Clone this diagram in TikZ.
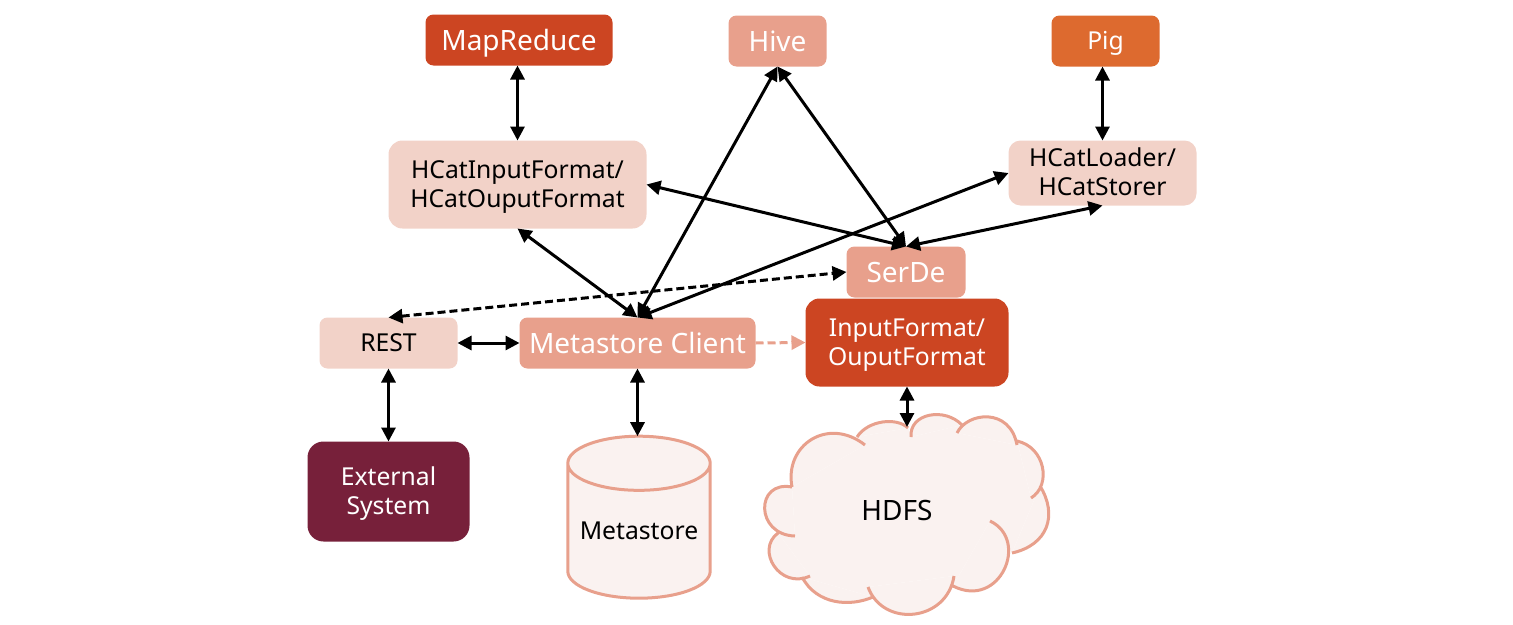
\documentclass[tikz,border=0pt]{standalone}
\usepackage{fontspec}
\setmainfont{Noto Sans}
\usetikzlibrary{arrows.meta, positioning, shapes.geometric}
\definecolor{brickred}{HTML}{CC4522}
\definecolor{salmon}{HTML}{E8A08C}
\definecolor{paleroze}{HTML}{F2D2C8}
\definecolor{pigorange}{HTML}{DD6A2F}
\definecolor{winered}{HTML}{77203A}
\definecolor{cloudfill}{HTML}{FAF2F0}
\tikzset{%
	every box/.style={
		rectangle,
		rounded corners=8pt,
		inner sep=0pt,
		outer sep=0pt,
		align=center
	},
	bigfont/.style={font=\fontsize{28}{32}\selectfont, text height=26pt, text depth=6pt},
	smallfont/.style={font=\fontsize{24.7}{29}\selectfont, text height=24pt, text depth=8pt},
	twolines/.style={font=\fontsize{24.7}{29}\selectfont, text height=52.5pt, text depth=7pt},
	both arrow/.style={
		{Triangle[length=14pt,width=14pt]}-{Triangle[length=14pt,width=14pt]},
		line width=3pt,
		black
	},
	dash arrow/.style={
		both arrow,
		dash pattern=on 8pt off 4pt
	},
	pale arrow/.style={
		-{Triangle[length=14pt,width=14pt]},
		line width=3pt,
		salmon,
		dash pattern=on 8pt off 4pt
	},
	cloud lobe/.style={draw=salmon, line width=3pt},
}
\newcommand{\cloudlobes}{
	(792,487) .. controls (784,445) and (828,416) .. (865,445)
	(857,437) .. controls (868,420) and (897,417) .. (908,428)
	(911,437) .. controls (909,413) and (945,407) .. (962,425)
	(957,433) .. controls (967,412) and (1010,407) .. (1017,445)
	(1017,441) .. controls (1045,447) and (1052,485) .. (1031,498)
	(1040,486) .. controls (1058,515) and (1048,545) .. (1012,553)
	(990,521) .. controls (1030,540) and (1000,610) .. (953,586)
	(954,576) .. controls (947,622) and (883,628) .. (868,587)
	(873,597) .. controls (850,607) and (817,605) .. (802,577)
	(810,576) .. controls (780,590) and (755,550) .. (778,533)
	(795,536) .. controls (755,535) and (755,480) .. (792,487)
}

\begin{document}
\begin{tikzpicture}[x=1pt,y=-1pt]
			\useasboundingbox (0,0) rectangle (1513,624);
			
			\node[every box, bigfont, fill=brickred, text=white, minimum width=187pt, minimum height=51pt] (mapreduce) at (519,40) {MapReduce};
			\node[every box, bigfont, fill=salmon, text=white, minimum width=98pt, minimum height=51pt] (hive) at (777.5,41) {Hive};
			\node[every box, smallfont, fill=pigorange, text=white, minimum width=108pt, minimum height=51pt] (pig) at (1105.5,41) {Pig};
			\node[every box, twolines, rounded corners=14pt, fill=paleroze, minimum width=258pt, minimum height=88pt] (hcatformat) at (517.5,184.5) {HCatInputFormat/\\HCatOuputFormat};
			\node[every box, twolines, rounded corners=12pt, fill=paleroze, minimum width=188pt, minimum height=65pt] (hcatloader) at (1102.5,173) {HCatLoader/\\HCatStorer};
			\node[every box, bigfont, fill=salmon, text=white, minimum width=119pt, minimum height=51pt] (serde) at (906,272) {SerDe};
			\node[every box, twolines, rounded corners=14pt, fill=brickred, text=white, minimum width=203pt, minimum height=88pt] (inputformat) at (907,342.5) {InputFormat/\\OuputFormat};
			\node[every box, smallfont, fill=paleroze, minimum width=138pt, minimum height=51pt] (rest) at (388.5,343) {REST};
			\node[every box, bigfont, fill=salmon, text=white, minimum width=236pt, minimum height=51pt] (client) at (637.5,343) {Metastore Client};
			\node[every box, twolines, rounded corners=16pt, fill=winered, text=white, minimum width=162pt, minimum height=100pt] (external) at (388.5,491.5) {External\\System};
			\node[cylinder, shape border rotate=90, aspect=0.38, draw=salmon, fill=cloudfill, line width=3pt, smallfont, text height=16pt, text depth=16pt, inner xsep=12pt, inner ysep=0pt, outer sep=0pt, minimum width=140pt, minimum height=162pt] (metastore) at (639,539) {Metastore};
			
			% cloud
			\fill[cloudfill] \cloudlobes;
			\fill[cloudfill] (792,487) -- (865,445) -- (857,437) -- (908,428) -- (911,437) -- (962,425) -- (957,433) -- (1017,445) -- (1017,441) -- (1031,498) -- (1040,486) -- (1012,553) -- (990,521) -- (953,586) -- (954,576) -- (868,587) -- (873,597) -- (802,577) -- (810,576) -- (778,533) -- (795,536) -- cycle;
			\draw[cloud lobe] \cloudlobes;
			\node[font=\fontsize{28}{32}\selectfont] (hdfs) at (897,510) {HDFS};
			\coordinate (cloudtop) at (907,427);
			
			\draw[both arrow] (mapreduce.south -| hcatformat.north) -- (hcatformat.north);
			\draw[both arrow] (pig.south -| hcatloader.north) -- (hcatloader.north);
			\draw[both arrow] (hive.south) -- (client.north);
			\draw[both arrow] (hive.south) -- (serde.north);
			\draw[both arrow] (hcatformat.east) -- (serde.north);
			\draw[both arrow] (hcatloader.south) -- (serde.north);
			\draw[both arrow] (hcatloader.west) -- (client.north);
			\draw[both arrow] (hcatformat.south) -- (client.north);
			\draw[dash arrow] (rest.north) -- (serde.west);
			\draw[both arrow] (rest.east) -- (client.west);
			\draw[both arrow] (rest.south) -- (external.north);
			\draw[both arrow] (client.south) -- (client.south |- metastore.north);
			\draw[both arrow] (inputformat.south) -- (cloudtop);
			\draw[pale arrow] (client.east) -- (inputformat.west);
			
		\end{tikzpicture}
\end{document}
